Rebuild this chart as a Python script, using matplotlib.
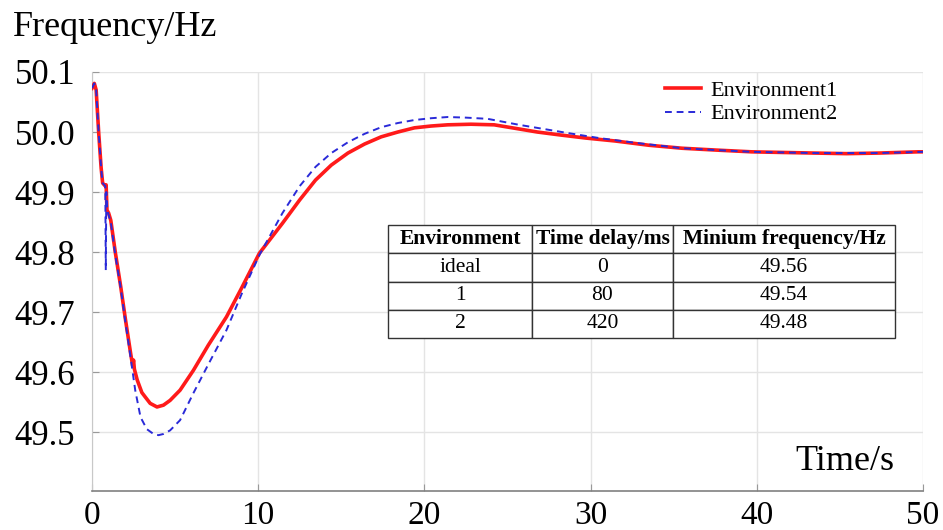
import matplotlib
matplotlib.use("Agg")
import matplotlib.pyplot as plt

# ---- data ----
env1_t = [0.0, 0.14, 0.25, 0.4, 0.55, 0.64, 0.8, 0.85, 0.9, 1.0, 1.13, 1.4, 1.73, 2.0, 2.32,
          2.45, 2.5, 2.55, 2.72, 3.0, 3.22, 3.5, 3.91, 4.3, 4.7, 5.3, 6.1, 7.0, 8.09, 9.0,
          10.07, 11.46, 12.5, 13.45, 14.4, 15.4, 16.4, 17.4, 18.4, 19.4, 20.4, 21.4, 22.8,
          24.2, 25.5, 26.8, 28.2, 29.7, 31.5, 33.5, 35.5, 37.5, 39.7, 41.5, 43.4, 45.4,
          47.4, 49.7, 50.0]
env1_f = [50.073, 50.081, 50.07, 50.0, 49.94, 49.915, 49.91, 49.912, 49.87, 49.865, 49.853,
          49.80, 49.742, 49.69, 49.632, 49.61, 49.62, 49.605, 49.587, 49.566, 49.558, 49.548,
          49.542, 49.545, 49.553, 49.57, 49.603, 49.645, 49.692, 49.74, 49.798, 49.848,
          49.887, 49.92, 49.945, 49.965, 49.98, 49.992, 50.0, 50.007, 50.01, 50.012, 50.013,
          50.012, 50.006, 50.0, 49.995, 49.99, 49.985, 49.978, 49.973, 49.97, 49.967, 49.966,
          49.965, 49.964, 49.965, 49.967, 49.967]

env2_t = [0.0, 0.14, 0.25, 0.4, 0.55, 0.64, 0.8, 0.83, 0.86, 0.92, 1.0, 1.13, 1.4, 1.73, 2.0,
          2.32, 2.6, 2.92, 3.3, 3.7, 4.0, 4.3, 4.7, 5.3, 6.1, 7.0, 8.09, 9.0, 10.07, 11.46,
          12.5, 13.45, 14.4, 15.4, 16.4, 17.4, 18.4, 19.4, 20.4, 21.4, 22.5, 23.8, 25.7, 27.2,
          28.7, 30.5, 32.7, 35.5, 37.5, 39.7, 43.4, 47.4, 50.0]
env2_f = [50.073, 50.081, 50.07, 50.0, 49.94, 49.915, 49.91, 49.77, 49.9, 49.87, 49.862,
          49.85, 49.795, 49.74, 49.685, 49.625, 49.57, 49.525, 49.505, 49.497, 49.495, 49.497,
          49.503, 49.52, 49.565, 49.613, 49.67, 49.73, 49.795, 49.865, 49.91, 49.942, 49.965,
          49.983, 49.997, 50.008, 50.015, 50.02, 50.023, 50.025, 50.024, 50.022, 50.012,
          50.005, 49.998, 49.99, 49.982, 49.973, 49.97, 49.967, 49.965, 49.965, 49.967]

series_labels = ["Environment1", "Environment2"]

x_ticks = [0, 10, 20, 30, 40, 50]
y_ticks = [49.5, 49.6, 49.7, 49.8, 49.9, 50.0, 50.1]

table_header = ["Environment", "Time delay/ms", "Minium frequency/Hz"]
table_env = ["ideal", "1", "2"]
table_delay = ["0", "80", "420"]
table_minf = ["49.56", "49.54", "49.48"]

# ---- figure ----
plt.rcParams["font.family"] = ["Liberation Serif", "DejaVu Serif"]

W, H = 943, 530
L, R, T, B = 92, 923, 72, 491
fig = plt.figure(figsize=(W / 100, H / 100), dpi=100)
ax = fig.add_axes([L / W, 1 - B / H, (R - L) / W, (B - T) / H])
aw, ah = R - L, B - T

ax.plot(env1_t, env1_f, color="#ff1a1a", lw=2.6, label=series_labels[0], zorder=3)
ax.plot(env2_t, env2_f, color="#2a2ad8", lw=1.4, linestyle=(0, (3.5, 2.5)),
        label=series_labels[1], zorder=4)

ax.set_xlim(0, 50)
ax.set_ylim(49.402, 50.1)
ax.set_xticks(x_ticks)
ax.set_yticks(y_ticks)
ax.set_xticklabels([str(v) for v in x_ticks], fontsize=24)
ax.set_yticklabels([f"{v:.1f}" for v in y_ticks], fontsize=25)
ax.tick_params(axis="both", direction="in", length=5, color="#999999", width=0.8)
ax.tick_params(axis="y", pad=12)
ax.tick_params(axis="x", pad=7)

ax.grid(True, color="#e4e4e4", lw=1.0)
ax.set_axisbelow(True)
for s in ["top", "right"]:
    ax.spines[s].set_visible(False)
ax.spines["left"].set_color("#c8c8c8")
ax.spines["bottom"].set_color("#808080")
ax.spines["bottom"].set_linewidth(1.2)

fig.text(13 / W, 1 - 28 / H, "Frequency/Hz", fontsize=26, ha="left", va="center")
ax.text((845 - L) / aw, (B - 461) / ah, "Time/s", transform=ax.transAxes, fontsize=26,
        ha="center", va="center")

leg = ax.legend(loc="upper left", bbox_to_anchor=((665 - L) / aw, (B - 80) / ah),
                frameon=False, fontsize=16, handlelength=1.6, handletextpad=0.45,
                labelspacing=0.15, borderaxespad=0, borderpad=0)

cell_text = [[e, d, m] for e, d, m in zip(table_env, table_delay, table_minf)]
tx0 = (388 - L) / aw
tx1 = (895 - L) / aw
ty0 = (B - 338) / ah
ty1 = (B - 225) / ah
tbl = ax.table(cellText=cell_text, colLabels=table_header, cellLoc="center",
               colWidths=[144, 141, 222], bbox=[tx0, ty0, tx1 - tx0, ty1 - ty0],
               zorder=6)
tbl.auto_set_font_size(False)
tbl.set_fontsize(15.5)
for (r, c), cell in tbl.get_celld().items():
    cell.set_edgecolor("#333333")
    cell.set_linewidth(1.0)
    cell.set_facecolor("white")
    if r == 0:
        cell.get_text().set_fontweight("bold")

fig.savefig("out.png", dpi=100)
